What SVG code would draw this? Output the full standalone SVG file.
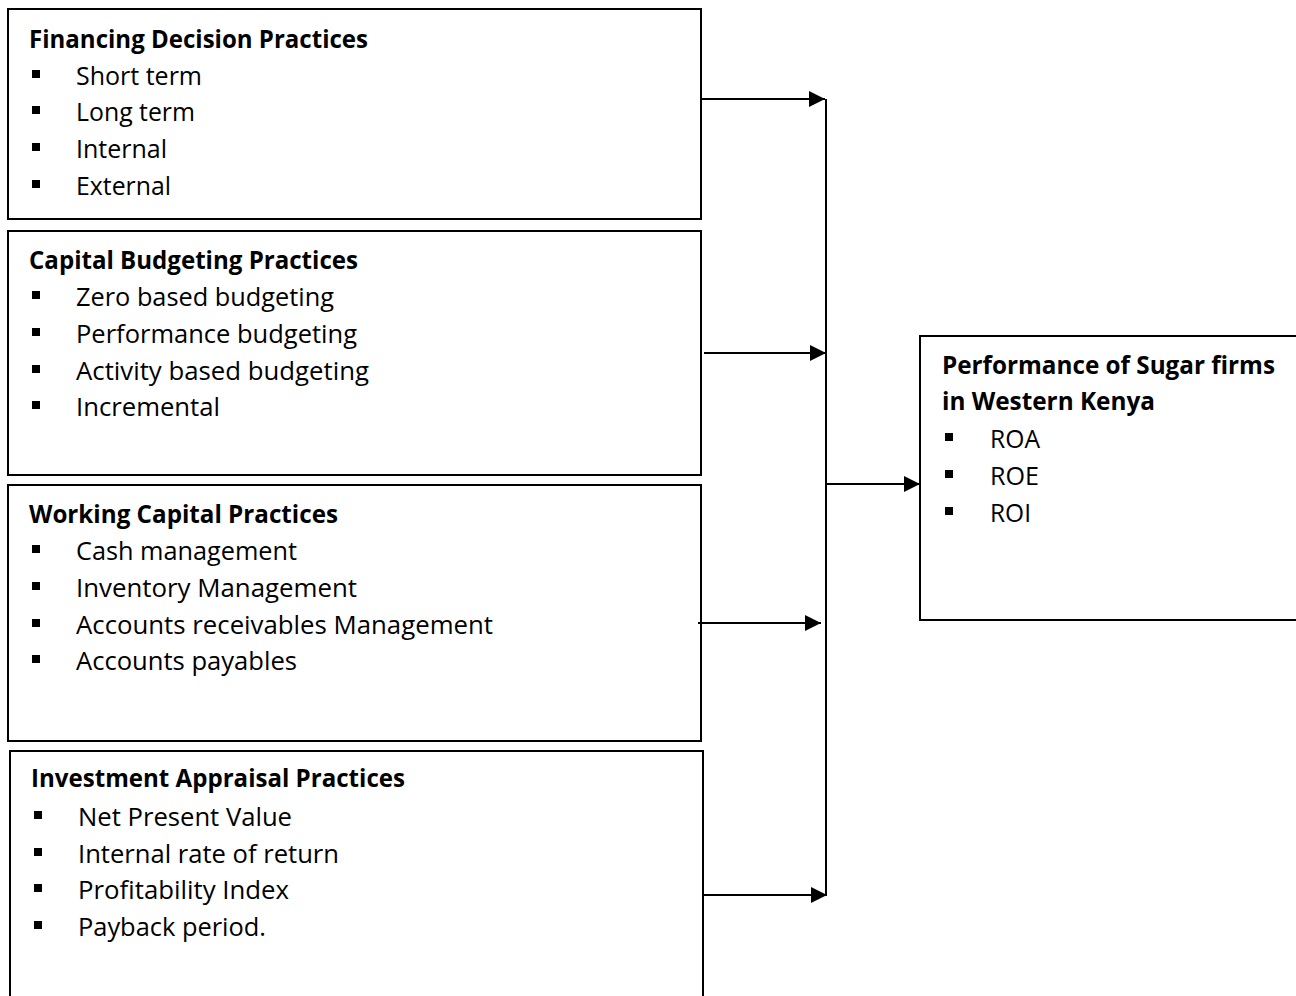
<svg xmlns="http://www.w3.org/2000/svg" width="1296" height="996" viewBox="0 0 1296 996">
<style>
.box{fill:#fff;stroke:#000;stroke-width:2}
.t{font-family:"Open Sans","Liberation Sans",sans-serif;font-size:25px;fill:#000}
.b{font-weight:bold}
.bul{fill:#000}
.con{stroke:#000;stroke-width:2;fill:none}
</style>
<defs>
<marker id="ah" markerUnits="userSpaceOnUse" markerWidth="17" markerHeight="16" refX="16" refY="8" orient="auto">
<path d="M0,0 L16,8 L0,16 Z" fill="#000"/>
</marker>
</defs>
<rect width="1296" height="996" fill="#fff"/>

<g id="financing">
<rect class="box" x="8" y="9" width="693" height="210"/>
<text class="t b" x="29" y="48" textLength="339" lengthAdjust="spacingAndGlyphs">Financing Decision Practices</text>
<rect class="bul" x="32" y="70" width="8" height="8"/>
<text class="t" x="76" y="85" textLength="126" lengthAdjust="spacingAndGlyphs">Short term</text>
<rect class="bul" x="32" y="106" width="8" height="8"/>
<text class="t" x="76" y="121" textLength="119" lengthAdjust="spacingAndGlyphs">Long term</text>
<rect class="bul" x="32" y="143" width="8" height="8"/>
<text class="t" x="76" y="158" textLength="91" lengthAdjust="spacingAndGlyphs">Internal</text>
<rect class="bul" x="32" y="180" width="8" height="8"/>
<text class="t" x="76" y="195" textLength="95" lengthAdjust="spacingAndGlyphs">External</text>
</g>

<g id="capital">
<rect class="box" x="8" y="231" width="693" height="244"/>
<text class="t b" x="29" y="269" textLength="329" lengthAdjust="spacingAndGlyphs">Capital Budgeting Practices</text>
<rect class="bul" x="32" y="291" width="8" height="8"/>
<text class="t" x="76" y="306" textLength="258" lengthAdjust="spacingAndGlyphs">Zero based budgeting</text>
<rect class="bul" x="32" y="328" width="8" height="8"/>
<text class="t" x="76" y="343" textLength="281" lengthAdjust="spacingAndGlyphs">Performance budgeting</text>
<rect class="bul" x="32" y="365" width="8" height="8"/>
<text class="t" x="76" y="380" textLength="293" lengthAdjust="spacingAndGlyphs">Activity based budgeting</text>
<rect class="bul" x="32" y="401" width="8" height="8"/>
<text class="t" x="76" y="416" textLength="144" lengthAdjust="spacingAndGlyphs">Incremental</text>
</g>

<g id="working">
<rect class="box" x="8" y="485" width="693" height="256"/>
<text class="t b" x="29" y="523" textLength="309" lengthAdjust="spacingAndGlyphs">Working Capital Practices</text>
<rect class="bul" x="32" y="545" width="8" height="8"/>
<text class="t" x="76" y="560" textLength="221" lengthAdjust="spacingAndGlyphs">Cash management</text>
<rect class="bul" x="32" y="582" width="8" height="8"/>
<text class="t" x="76" y="597" textLength="281" lengthAdjust="spacingAndGlyphs">Inventory Management</text>
<rect class="bul" x="32" y="619" width="8" height="8"/>
<text class="t" x="76" y="634" textLength="417" lengthAdjust="spacingAndGlyphs">Accounts receivables Management</text>
<rect class="bul" x="32" y="655" width="8" height="8"/>
<text class="t" x="76" y="670" textLength="221" lengthAdjust="spacingAndGlyphs">Accounts payables</text>
</g>

<g id="investment">
<rect class="box" x="10" y="751" width="693" height="270"/>
<text class="t b" x="31" y="787" textLength="374" lengthAdjust="spacingAndGlyphs">Investment Appraisal Practices</text>
<rect class="bul" x="34" y="811" width="8" height="8"/>
<text class="t" x="78" y="826" textLength="214" lengthAdjust="spacingAndGlyphs">Net Present Value</text>
<rect class="bul" x="34" y="848" width="8" height="8"/>
<text class="t" x="78" y="863" textLength="261" lengthAdjust="spacingAndGlyphs">Internal rate of return</text>
<rect class="bul" x="34" y="884" width="8" height="8"/>
<text class="t" x="78" y="899" textLength="211" lengthAdjust="spacingAndGlyphs">Profitability Index</text>
<rect class="bul" x="34" y="921" width="8" height="8"/>
<text class="t" x="78" y="936" textLength="188" lengthAdjust="spacingAndGlyphs">Payback period.</text>
</g>

<g id="performance">
<rect class="box" x="920" y="336" width="400" height="284"/>
<text class="t b" x="942" y="374" textLength="333" lengthAdjust="spacingAndGlyphs">Performance of Sugar firms</text>
<text class="t b" x="942" y="410" textLength="213" lengthAdjust="spacingAndGlyphs">in Western Kenya</text>
<rect class="bul" x="945" y="433" width="8" height="8"/>
<text class="t" x="990" y="448" textLength="50" lengthAdjust="spacingAndGlyphs">ROA</text>
<rect class="bul" x="945" y="470" width="8" height="8"/>
<text class="t" x="990" y="485" textLength="49" lengthAdjust="spacingAndGlyphs">ROE</text>
<rect class="bul" x="945" y="507" width="8" height="8"/>
<text class="t" x="990" y="522" textLength="41" lengthAdjust="spacingAndGlyphs">ROI</text>
</g>

<g id="connectors">
<line class="con" x1="826" y1="99" x2="826" y2="895"/>
<line class="con" x1="701" y1="99" x2="825" y2="99" marker-end="url(#ah)"/>
<line class="con" x1="704" y1="353" x2="826" y2="353" marker-end="url(#ah)"/>
<line class="con" x1="698" y1="623" x2="821" y2="623" marker-end="url(#ah)"/>
<line class="con" x1="703" y1="895" x2="827" y2="895" marker-end="url(#ah)"/>
<line class="con" x1="826" y1="484" x2="920" y2="484" marker-end="url(#ah)"/>
</g>
</svg>
